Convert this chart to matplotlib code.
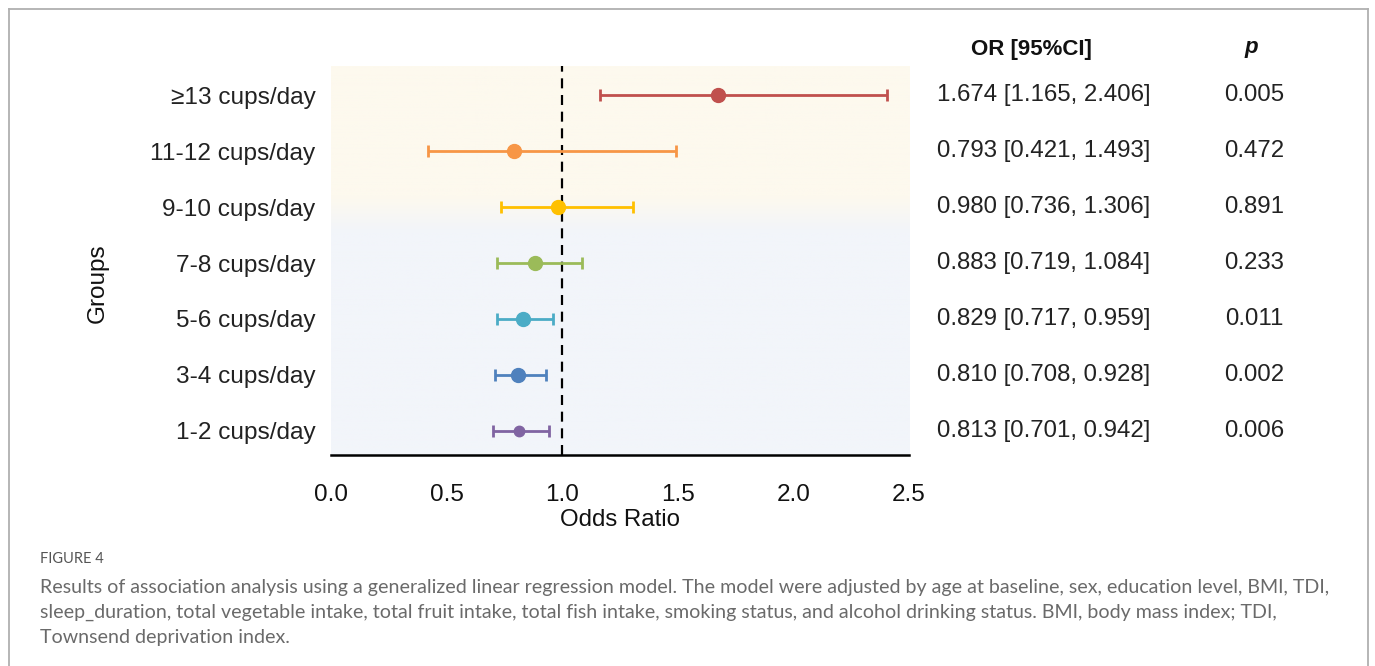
import matplotlib
matplotlib.use("Agg")
import matplotlib.pyplot as plt
import matplotlib.transforms as mtransforms
from matplotlib.lines import Line2D
from matplotlib.colors import to_rgb
import numpy as np

# ---------------- data ----------------
groups = ["1-2 cups/day", "3-4 cups/day", "5-6 cups/day", "7-8 cups/day",
          "9-10 cups/day", "11-12 cups/day", "≥13 cups/day"]
odds = [0.813, 0.810, 0.829, 0.883, 0.980, 0.793, 1.674]
ci_low = [0.701, 0.708, 0.717, 0.719, 0.736, 0.421, 1.165]
ci_high = [0.942, 0.928, 0.959, 1.084, 1.306, 1.493, 2.406]
p_values = ["0.006", "0.002", "0.011", "0.233", "0.891", "0.472", "0.005"]
xticks = [0.0, 0.5, 1.0, 1.5, 2.0, 2.5]
ref_line = 1.0

caption_title = "FIGURE 4"
caption_lines = [
    "Results of association analysis using a generalized linear regression model. The model were adjusted by age at baseline, sex, education level, BMI, TDI,",
    "sleep_duration, total vegetable intake, total fruit intake, total fish intake, smoking status, and alcohol drinking status. BMI, body mass index; TDI,",
    "Townsend deprivation index.",
]

# ---------------- style ----------------
colors = ["#8064a2", "#4f81bd", "#4bacc6", "#9bbb59", "#ffc000", "#f79646", "#c0504d"]
marker_sizes = [7.5, 10, 10, 10, 10, 10, 10]
FONT = ["Liberation Sans", "DejaVu Sans"]
plt.rcParams["font.family"] = FONT

W, H = 1375, 666
fig = plt.figure(figsize=(W / 100, H / 100), dpi=100)
fig.patch.set_facecolor("white")

# frame lines (left, top, right)
bc = "#b0b0b0"
fig.add_artist(Line2D([8.5 / W, 8.5 / W], [0, 1 - 8.5 / H], transform=fig.transFigure, color=bc, lw=1.3))
fig.add_artist(Line2D([8.5 / W, 1367.5 / W], [1 - 8.5 / H, 1 - 8.5 / H], transform=fig.transFigure, color=bc, lw=1.3))
fig.add_artist(Line2D([1367.5 / W, 1367.5 / W], [0, 1 - 8.5 / H], transform=fig.transFigure, color=bc, lw=1.3))

ax = fig.add_axes([331 / W, 1 - 455 / H, 578 / W, 389 / H])
ypos = np.arange(len(groups))
ylo, yhi = -0.43, 6.52
ax.set_xlim(0, 2.5)
ax.set_ylim(ylo, yhi)

# gradient background: yellow top, blue bottom
n = 400
yy = np.linspace(ylo, yhi, n)
top_c = np.array(to_rgb("#fdf9ee"))
bot_c = np.array(to_rgb("#f2f5fa"))
t = np.clip((yy - 3.55) / (4.2 - 3.55), 0, 1)[:, None]
grad = bot_c * (1 - t) + top_c * t
img = np.repeat(grad[:, None, :], 2, axis=1)
ax.imshow(img, extent=[0, 2.5, ylo, yhi], origin="lower", aspect="auto", zorder=0)

ax.axvline(ref_line, color="black", lw=1.6, ls=(0, (4.5, 3)), zorder=1)

for i in range(len(groups)):
    ax.errorbar(odds[i], ypos[i],
                xerr=[[odds[i] - ci_low[i]], [ci_high[i] - odds[i]]],
                fmt="o", color=colors[i], ecolor=colors[i], ms=marker_sizes[i],
                elinewidth=2.0, capsize=4.5, capthick=2.0, zorder=3)

ax.set_yticks(ypos)
ax.set_yticklabels(groups, fontsize=17.6, color="#222222")
ax.set_xticks(xticks)
ax.set_xticklabels([f"{v:.1f}" for v in xticks], fontsize=17.5, color="#111111")
ax.tick_params(axis="both", length=0)
ax.tick_params(axis="y", pad=11)
ax.tick_params(axis="x", pad=21)
for s in ["top", "right", "left"]:
    ax.spines[s].set_visible(False)
ax.spines["bottom"].set_linewidth(1.8)
ax.spines["bottom"].set_color("black")
ax.spines["bottom"].set_zorder(5)
ax.set_xlabel("Odds Ratio", fontsize=17.3, color="#111111")
ax.xaxis.set_label_coords(0.5, (455 - 509) / 389, transform=ax.transAxes)
ax.set_ylabel("Groups", fontsize=17.5, color="#111111")
ax.yaxis.set_label_coords((109 - 331) / 578, (455 - 283) / 389)

# table columns
trans = mtransforms.blended_transform_factory(fig.transFigure, ax.transData)
or_x = 1043.5 / W
p_x = 1254 / W
for i in range(len(groups)):
    ax.text(or_x, ypos[i], f"{odds[i]:.3f} [{ci_low[i]:.3f}, {ci_high[i]:.3f}]",
            transform=trans, ha="center", va="center", fontsize=17.3, color="#222222")
    ax.text(p_x, ypos[i], p_values[i], transform=trans, ha="center", va="center",
            fontsize=17.3, color="#222222")
fig.text(1031 / W, 1 - 50 / H, "OR [95%CI]", ha="center", va="center",
         fontsize=16, fontweight="bold", color="#111111")
fig.text(1251 / W, 1 - 47 / H, "p", ha="center", va="center",
         fontsize=16, fontweight="bold", fontstyle="italic", color="#111111")

# caption
fig.text(40 / W, 1 - 559 / H, caption_title, ha="left", va="center",
         fontsize=10.5, color="#555555", family=["Lato", "DejaVu Sans"])
for k, line in enumerate(caption_lines):
    fig.text(40 / W, 1 - (587 + 25.5 * k) / H, line, ha="left", va="center",
             fontsize=14.1, color="#6a6a6a", family=["Lato", "DejaVu Sans"])

fig.savefig("out.png", dpi=100)
